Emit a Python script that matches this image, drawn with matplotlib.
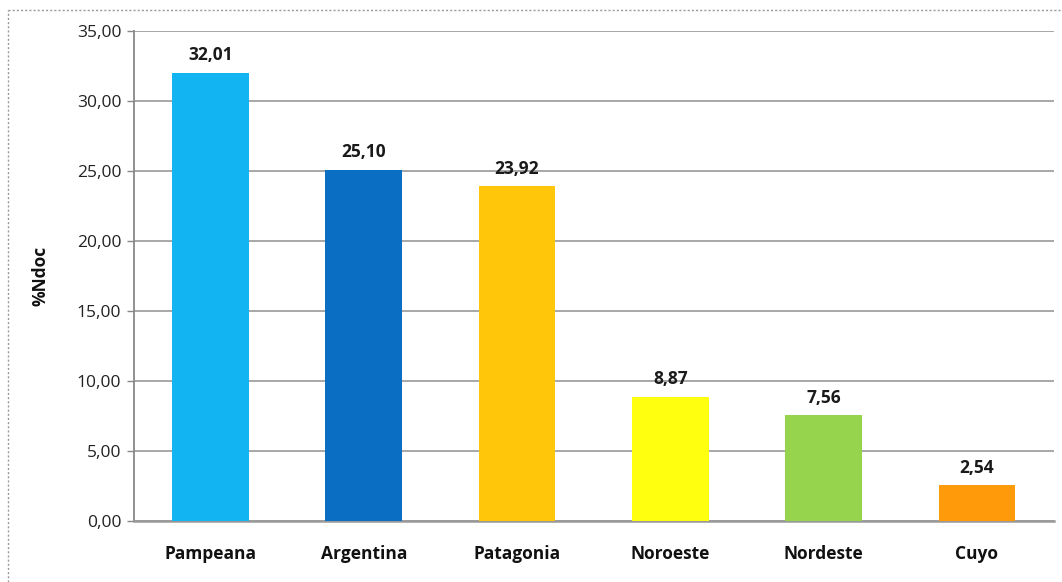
import matplotlib
matplotlib.use("Agg")
import matplotlib.pyplot as plt
from matplotlib.lines import Line2D

regions = ["Pampeana", "Argentina", "Patagonia", "Noroeste", "Nordeste", "Cuyo"]
pct_ndoc = [32.01, 25.10, 23.92, 8.87, 7.56, 2.54]
bar_colors = ["#12B4F2", "#0A6FC2", "#FFC60A", "#FFFF10", "#96D44E", "#FF9A0A"]
y_ticks = [0, 5, 10, 15, 20, 25, 30, 35]

plt.rcParams['font.family'] = ['Open Sans', 'DejaVu Sans']


def fmt(v):
    return f"{v:.2f}".replace(".", ",")


fig = plt.figure(figsize=(10.62, 5.82), dpi=100, facecolor='white')
ax = fig.add_axes([0.126, 0.1048, 0.866, 0.842])

x = range(len(regions))
ax.bar(x, pct_ndoc, width=0.5, color=bar_colors, zorder=3)

for xi, v in zip(x, pct_ndoc):
    ax.annotate(fmt(v), (xi, v), xytext=(0, 6), textcoords='offset points',
                ha='center', va='bottom', fontsize=12.5, fontweight='bold',
                color='#1a1a1a')

ax.set_xlim(-0.5, len(regions) - 0.5)
ax.set_ylim(0, 35)
ax.set_yticks(y_ticks)
ax.set_yticklabels([fmt(t) for t in y_ticks], fontsize=12.5, color='#222222')
ax.set_xticks(list(x))
ax.set_xticklabels(regions, fontsize=12.5, fontweight='bold', color='#111111')
ax.tick_params(axis='x', length=0, pad=17)
ax.tick_params(axis='y', length=5, width=1, color='#888888', pad=4, direction='out')

ax.grid(axis='y', color='#a0a0a0', linewidth=1.3, zorder=0)
for side in ['top', 'right']:
    ax.spines[side].set_visible(False)
ax.spines['left'].set_color('#888888')
ax.spines['left'].set_linewidth(1.3)
ax.spines['bottom'].set_color('#999999')
ax.spines['bottom'].set_linewidth(1.8)

ax.set_ylabel('%Ndoc', fontsize=12.5, fontweight='bold', labelpad=20, color='#111111')

# dotted outer chart border
fig.add_artist(Line2D([8/1062, 1], [1 - 10/582, 1 - 10/582], transform=fig.transFigure,
                      color='#999999', linewidth=1, linestyle=(0, (1.5, 1.5))))
fig.add_artist(Line2D([8/1062, 8/1062], [0, 1 - 10/582], transform=fig.transFigure,
                      color='#999999', linewidth=1, linestyle=(0, (1.5, 1.5))))

fig.savefig('out.png', dpi=100, facecolor='white')
